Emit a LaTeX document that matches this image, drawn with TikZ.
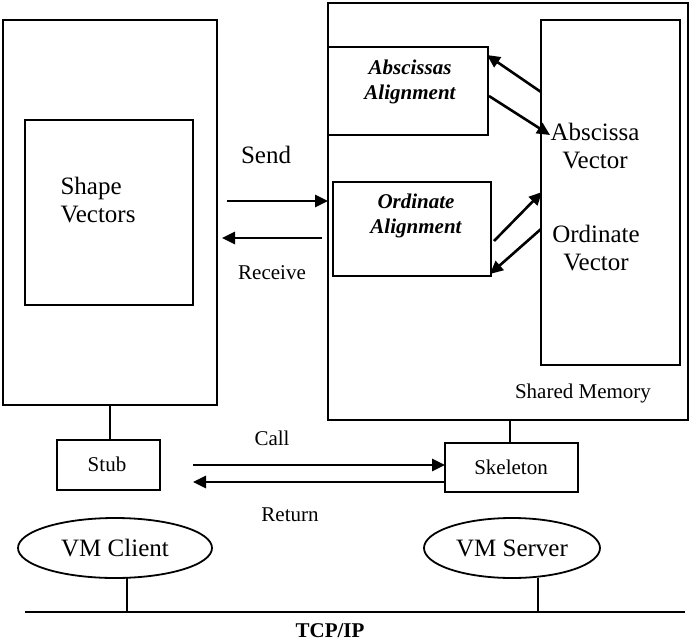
\documentclass[tikz,border=0pt]{standalone}
\usepackage{fontspec}
\setmainfont{Liberation Serif}
\usetikzlibrary{arrows.meta}
\begin{document}
\begin{tikzpicture}[x=1pt,y=-1pt,
  box/.style={draw,line width=1.8pt},
  arr/.style={line width=2.6pt,-{Triangle[length=13pt,width=12pt]}},
  ln/.style={line width=1.8pt},
  big/.style={font=\fontsize{25}{28}\selectfont,align=center},
  med/.style={font=\fontsize{21}{24}\selectfont,align=center},
  bi/.style={font=\fontsize{21}{25}\selectfont\bfseries\itshape,align=center}]
\useasboundingbox (0,0) rectangle (691,643);
\node[box,minimum width=214,minimum height=385,inner sep=0] (L) at (110,212.5) {};
\node[box,minimum width=168,minimum height=185,inner sep=0] (S) at (109,212.5) {};
\node[big,align=left] (st) at (98,200) {Shape\\Vectors};
\node[box,minimum width=360,minimum height=417,inner sep=0] (R) at (508,211.5) {};
\node[box,minimum width=160,minimum height=88,inner sep=0] (AA) at (408,91) {};
\node[bi] at (410,82) {Abscissas\\Alignment};
\node[box,minimum width=158,minimum height=94,inner sep=0] (OA) at (412,229) {};
\node[bi] at (416,216) {Ordinate\\Alignment};
\node[box,minimum width=139,minimum height=345,inner sep=0] (V) at (610.5,192.5) {};
\node[big] at (595,146) {Abscissa\\Vector};
\node[big] at (596,248) {Ordinate\\Vector};
\node[med] (sm) at (583,393) {Shared Memory};
\coordinate (s1) at (227,201); \coordinate (s2) at (328,201);
\draw[arr] (s1) -- (s2);
\node[big] at (266,155) {Send};
\coordinate (r1) at (322,238); \coordinate (r2) at (222,238);
\draw[arr] (r1) -- (r2);
\node[med] at (272,273) {Receive};
\coordinate (a1) at (541,92); \coordinate (a2) at (487,55);
\coordinate (a3) at (489,96); \coordinate (a4) at (550,135);
\draw[arr] (a1) -- (a2); \draw[arr] (a3) -- (a4);
\coordinate (o1) at (494,241); \coordinate (o2) at (542,192);
\coordinate (o3) at (541,229); \coordinate (o4) at (490,274);
\draw[arr] (o1) -- (o2); \draw[arr] (o3) -- (o4);
\node[box,minimum width=103,minimum height=50,inner sep=0] (stub) at (108.5,465) {};
\node[med] at (107,464) {Stub};
\node[box,minimum width=133,minimum height=49,inner sep=0] (sk) at (511.5,467.5) {};
\node[med] at (511,467) {Skeleton};
\draw[ln] (110,405) -- (110,440);
\draw[ln] (510,420) -- (510,443);
\coordinate (c1) at (193,465); \coordinate (c2) at (445,465);
\draw[arr] (c1) -- (c2);
\node[med] at (272,438) {Call};
\coordinate (t1) at (444,482); \coordinate (t2) at (193,482);
\draw[arr] (t1) -- (t2);
\node[med] at (290,515) {Return};
\draw[ln] (115,548) ellipse (97 and 30);
\node[big] (vc) at (115,548) {VM Client};
\draw[ln] (512,548) ellipse (88 and 30);
\node[big] (vs) at (512,548) {VM Server};
\draw[ln] (25,612) -- (685,612);
\draw[ln] (127,578) -- (127,612);
\draw[ln] (538,578) -- (538,612);
\node[font=\fontsize{21}{23}\selectfont\bfseries] (tcp) at (330,631) {TCP/IP};
\end{tikzpicture}
\end{document}
